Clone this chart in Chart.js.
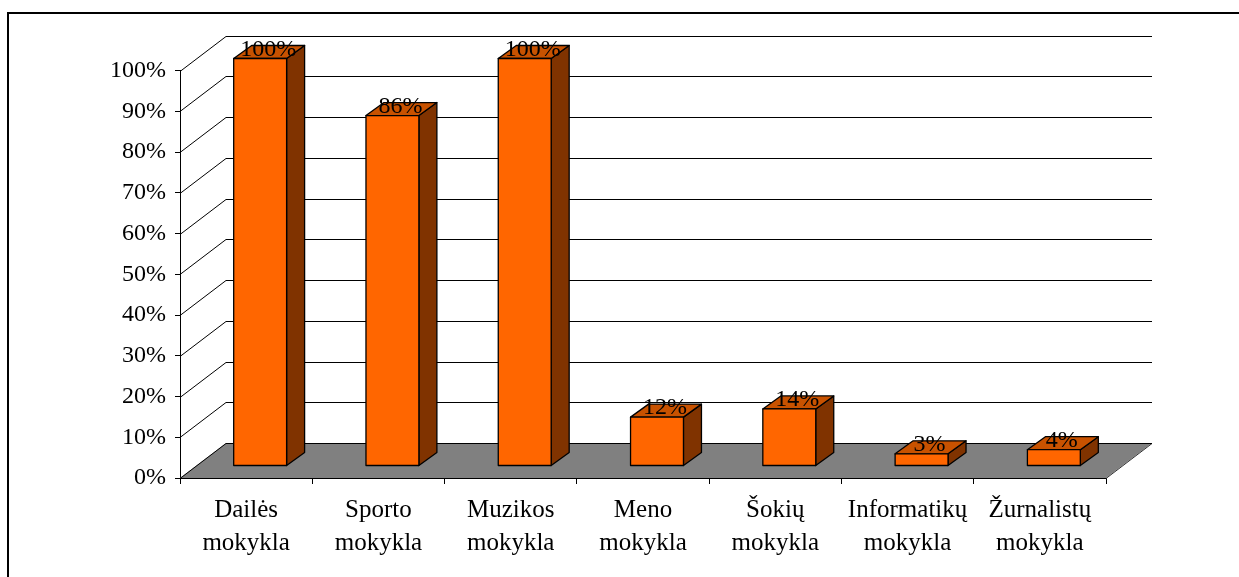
<!DOCTYPE html>
<html><head><meta charset="utf-8">
<script src="https://cdn.jsdelivr.net/npm/chart.js@4/dist/chart.umd.min.js"></script>
<style>html,body{margin:0;padding:0;background:#fff;overflow:hidden}canvas{display:block}</style>
</head><body>
<canvas id="c" width="1239" height="577"></canvas>
<script>
// ---- data ----
const categories = [
  ['Dailės','mokykla'], ['Sporto','mokykla'], ['Muzikos','mokykla'], ['Meno','mokykla'],
  ['Šokių','mokykla'], ['Informatikų','mokykla'], ['Žurnalistų','mokykla']
];
const values = [100, 86, 100, 12, 14, 3, 4];
const valueLabels = ['100%', '86%', '100%', '12%', '14%', '3%', '4%'];
const yTickLabels = ['0%','10%','20%','30%','40%','50%','60%','70%','80%','90%','100%'];

// ---- styling / geometry ----
const FONT = "'Liberation Serif', 'Times New Roman', serif";
const WALL_DX = 46, WALL_DY = -35;   // depth of the 3D box
const BAR_OX = 14, BAR_OY = -12;     // offset of bar front face from front plane
const BAR_DX = 18, BAR_DY = -13;     // bar thickness
const FRONT = '#FF6600', TOP = '#C85200', SIDE = '#803300', FLOOR = '#808080';

const threeD = {
  id: 'threeD',
  beforeDraw(chart) {
    const ctx = chart.ctx;
    ctx.save();
    ctx.fillStyle = '#fff';
    ctx.fillRect(0, 0, chart.width, chart.height);
    ctx.strokeStyle = '#000';
    ctx.lineWidth = 2;
    ctx.strokeRect(8, 13, 2000, 2000);
    ctx.restore();
  },
  beforeDatasetsDraw(chart) {
    const ctx = chart.ctx;
    const {left, right, bottom} = chart.chartArea;
    const y = chart.scales.y;
    ctx.save();
    // floor
    ctx.fillStyle = FLOOR;
    ctx.beginPath();
    ctx.moveTo(left, bottom);
    ctx.lineTo(right, bottom);
    ctx.lineTo(right + WALL_DX, bottom + WALL_DY);
    ctx.lineTo(left + WALL_DX, bottom + WALL_DY);
    ctx.closePath();
    ctx.fill();
    // right floor edge
    ctx.strokeStyle = '#333';
    ctx.lineWidth = 1;
    ctx.beginPath();
    ctx.moveTo(right, bottom + 0.5);
    ctx.lineTo(right + WALL_DX, bottom + WALL_DY + 0.5);
    ctx.stroke();
    // grid lines on side and back wall
    ctx.strokeStyle = '#000';
    ctx.lineWidth = 1;
    y.ticks.forEach(t => {
      const py = Math.round(y.getPixelForValue(t.value)) + 0.5;
      ctx.beginPath();
      ctx.moveTo(left, py);
      ctx.lineTo(left + WALL_DX, py + WALL_DY);
      ctx.lineTo(right + WALL_DX, py + WALL_DY);
      ctx.stroke();
    });
    // front floor edge
    ctx.beginPath();
    ctx.moveTo(left, Math.round(bottom) + 0.5);
    ctx.lineTo(right, Math.round(bottom) + 0.5);
    ctx.stroke();
    ctx.restore();
  },
  afterDatasetsDraw(chart) {
    const ctx = chart.ctx;
    const meta = chart.getDatasetMeta(0);
    ctx.save();
    ctx.lineWidth = 1.3;
    ctx.strokeStyle = '#000';
    ctx.lineJoin = 'round';
    meta.data.forEach((bar, i) => {
      const p = bar.getProps(['x', 'y', 'base', 'width'], true);
      const x0 = p.x - p.width / 2 + BAR_OX, x1 = p.x + p.width / 2 + BAR_OX;
      const yt = p.y + BAR_OY, yb = p.base + BAR_OY;
      // side
      ctx.fillStyle = SIDE;
      ctx.beginPath();
      ctx.moveTo(x1, yt); ctx.lineTo(x1 + BAR_DX, yt + BAR_DY);
      ctx.lineTo(x1 + BAR_DX, yb + BAR_DY); ctx.lineTo(x1, yb);
      ctx.closePath(); ctx.fill(); ctx.stroke();
      // top
      ctx.fillStyle = TOP;
      ctx.beginPath();
      ctx.moveTo(x0, yt); ctx.lineTo(x1, yt);
      ctx.lineTo(x1 + BAR_DX, yt + BAR_DY); ctx.lineTo(x0 + BAR_DX, yt + BAR_DY);
      ctx.closePath(); ctx.fill(); ctx.stroke();
      // front
      ctx.fillStyle = FRONT;
      ctx.beginPath();
      ctx.rect(x0, yt, x1 - x0, yb - yt);
      ctx.fill(); ctx.stroke();
    });
    // value labels
    ctx.fillStyle = '#000';
    ctx.font = `24px ${FONT}`;
    ctx.textAlign = 'center';
    ctx.textBaseline = 'alphabetic';
    meta.data.forEach((bar, i) => {
      const p = bar.getProps(['x', 'y'], true);
      ctx.fillText(valueLabels[i], p.x + BAR_OX + 8, p.y + BAR_OY - 3);
    });
    ctx.restore();
  }
};

new Chart(document.getElementById('c'), {
  type: 'bar',
  data: {
    labels: categories,
    datasets: [{
      data: values,
      backgroundColor: 'rgba(0,0,0,0)',
      borderWidth: 0,
      barPercentage: 0.4,
      categoryPercentage: 1.0
    }]
  },
  options: {
    responsive: false,
    animation: false,
    events: [],
    layout: { padding: { left: 0, top: 70.5, right: 133, bottom: 0 } },
    plugins: { legend: { display: false }, tooltip: { enabled: false } },
    scales: {
      x: {
        type: 'category',
        offset: true,
        afterFit(scale) { scale.height = 99; },
        grid: { offset: true, drawOnChartArea: false, drawTicks: true, tickLength: 6, color: '#000' },
        border: { display: true, color: '#000', width: 1 },
        ticks: { color: '#000', font: { family: FONT, size: 25, lineHeight: 1.33 }, padding: 9.5, maxRotation: 0, autoSkip: false }
      },
      y: {
        min: 0, max: 100,
        afterFit(scale) { scale.width = 180; },
        grid: { drawOnChartArea: false, drawTicks: true, tickLength: 5, color: '#000' },
        border: { display: true, color: '#000', width: 1 },
        ticks: { stepSize: 10, color: '#000', padding: 9, font: { family: FONT, size: 24 },
                 callback: (v, i) => yTickLabels[i] }
      }
    }
  },
  plugins: [threeD]
});
</script>
</body></html>
